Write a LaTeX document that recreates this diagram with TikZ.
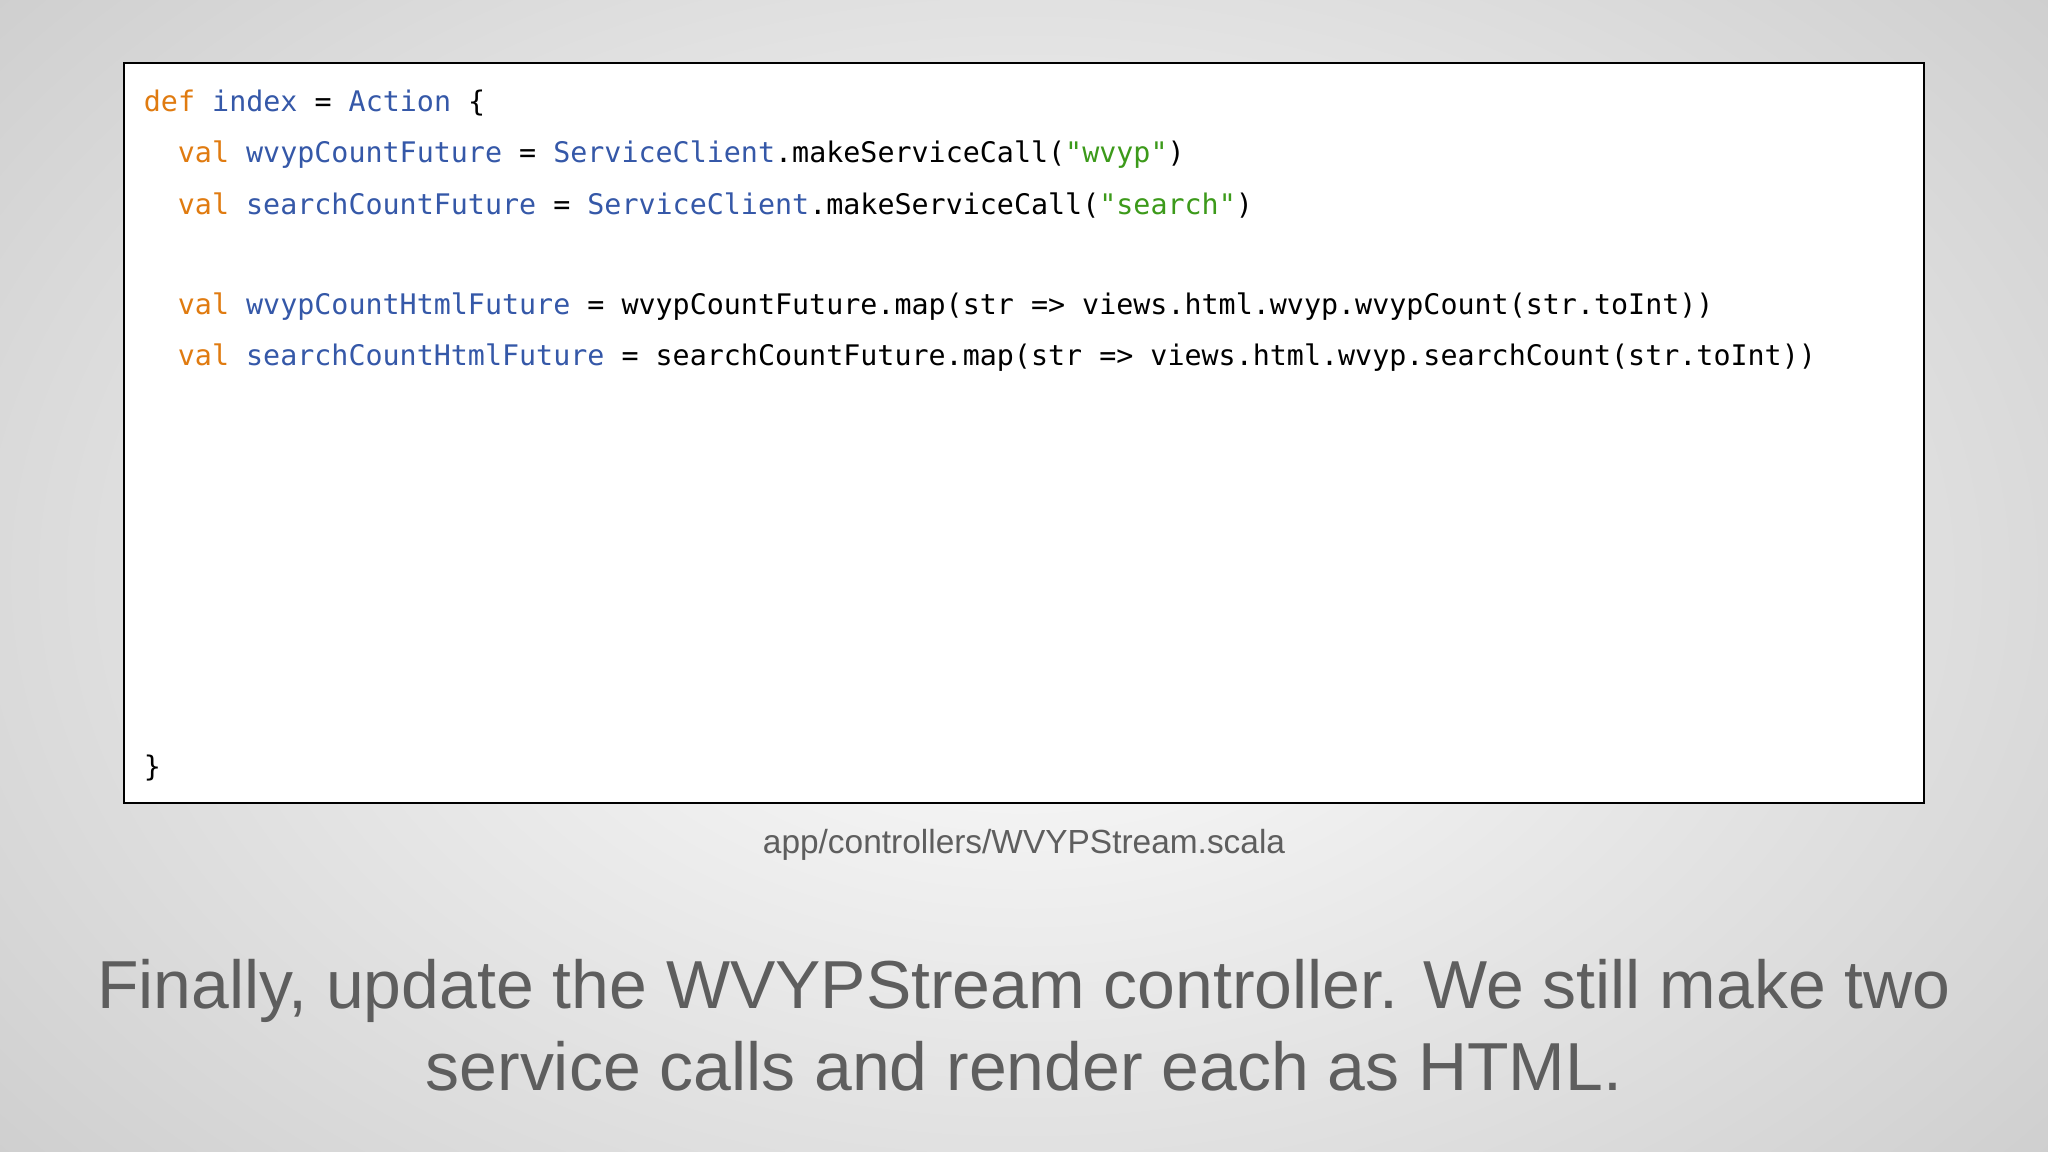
\documentclass[tikz,border=0pt]{standalone}
\usepackage{fontspec}
\setmainfont{Liberation Sans}
\newfontfamily\codefont{DejaVu Sans Mono}[Scale=1]
\definecolor{kw}{HTML}{E07B10}
\definecolor{id}{HTML}{3558A8}
\definecolor{st}{HTML}{3C9A1A}
\definecolor{tx}{HTML}{5E5E5E}
\newcommand{\K}[1]{\textcolor{kw}{#1}}
\newcommand{\I}[1]{\textcolor{id}{#1}}
\newcommand{\Sg}[1]{\textcolor{st}{#1}}
\begin{document}
\begin{tikzpicture}[x=1pt,y=-1pt,
  code/.style={anchor=west,inner sep=0,font=\codefont\fontsize{21.7}{24}\selectfont,text=black},
  captext/.style={inner sep=0,text=tx}]
\useasboundingbox (0,0) rectangle (1568,882);
\shade[inner color=white,outer color=black!20] (-300,-300) rectangle (1868,1182);
\draw[line width=1.5pt,fill=white] (95,48) rectangle (1473,615);
\node[code] (l1) at (110,79) {\K{def} \I{index} = \I{Action} \{};
\node[code] (l2) at (136,118) {\K{val} \I{wvypCountFuture} = \I{ServiceClient}.makeServiceCall(\Sg{"wvyp"})};
\node[code] (l3) at (136,157) {\K{val} \I{searchCountFuture} = \I{ServiceClient}.makeServiceCall(\Sg{"search"})};
\node[code] (l4) at (136,235) {\K{val} \I{wvypCountHtmlFuture} = wvypCountFuture.map(str => views.html.wvyp.wvypCount(str.toInt))};
\node[code] (l5) at (136,274) {\K{val} \I{searchCountHtmlFuture} = searchCountFuture.map(str => views.html.wvyp.searchCount(str.toInt))};
\node[code] (l6) at (110,588) {\}};
\node[captext,font=\fontsize{25.6}{30}\selectfont] (fn) at (784,647) {app/controllers/WVYPStream.scala};
\node[captext,font=\fontsize{52}{63}\selectfont,align=center] (t) at (784,785) {Finally, update the WVYPStream controller. We still make two\\service calls and render each as HTML.};
\end{tikzpicture}
\end{document}
